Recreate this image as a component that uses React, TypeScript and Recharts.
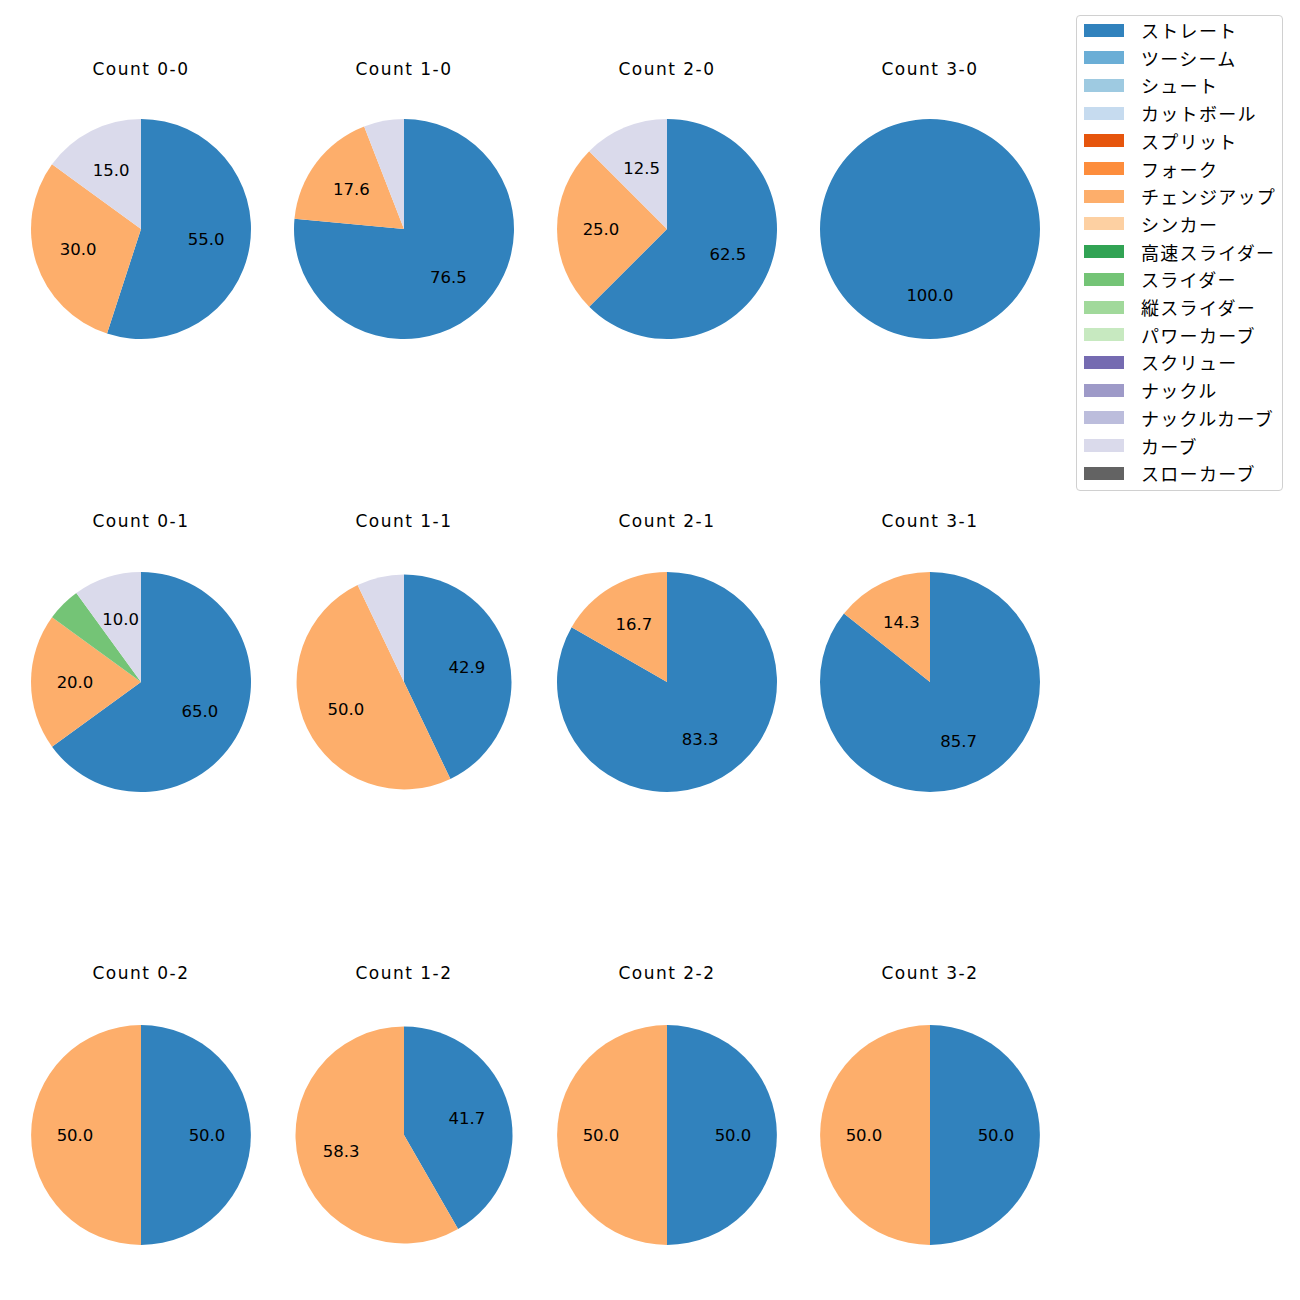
import { PieChart, Pie, Cell } from 'recharts';

const pitchTypes = [
  'ストレート', 'ツーシーム', 'シュート', 'カットボール', 'スプリット', 'フォーク',
  'チェンジアップ', 'シンカー', '高速スライダー', 'スライダー', '縦スライダー',
  'パワーカーブ', 'スクリュー', 'ナックル', 'ナックルカーブ', 'カーブ', 'スローカーブ',
];
const pitchColors = [
  '#3182bd', '#6baed6', '#9ecae1', '#c6dbef', '#e6550d', '#fd8d3c',
  '#fdae6b', '#fdd0a2', '#31a354', '#74c476', '#a1d99b',
  '#c7e9c0', '#756bb1', '#9e9ac8', '#bcbddc', '#dadaeb', '#636363',
];

const counts = ['0-0', '1-0', '2-0', '3-0', '0-1', '1-1', '2-1', '3-1', '0-2', '1-2', '2-2', '3-2'];
const straight = [55.0, 76.5, 62.5, 100.0, 65.0, 42.9, 83.3, 85.7, 50.0, 41.7, 50.0, 50.0];
const changeup = [30.0, 17.6, 25.0, 0, 20.0, 50.0, 16.7, 14.3, 50.0, 58.3, 50.0, 50.0];
const slider = [0, 0, 0, 0, 5.0, 0, 0, 0, 0, 0, 0, 0];
const curve = [15.0, 5.9, 12.5, 0, 10.0, 7.1, 0, 0, 0, 0, 0, 0];

const colX = [141, 404, 667, 930];
const rowY = [229, 682, 1135];
const titleY = [69, 521, 973];
const radii = [110, 110, 110, 110, 110, 107.5, 110, 110, 110, 108.5, 110, 110];

const JP_FONT = '"Noto Sans CJK JP", "Noto Sans", sans-serif';
const NUM_FONT = '"DejaVu Sans", sans-serif';
const RAD = Math.PI / 180;

function sliceData(i: number) {
  return [
    { name: 'ストレート', value: straight[i], color: pitchColors[0] },
    { name: 'チェンジアップ', value: changeup[i], color: pitchColors[6] },
    { name: 'スライダー', value: slider[i], color: pitchColors[9] },
    { name: 'カーブ', value: curve[i], color: pitchColors[15] },
  ].filter((d) => d.value > 0);
}

// matplotlib-style autopct label at 0.6 r, small slices unlabelled
const renderLabel = (props: any) => {
  const { cx, cy, midAngle, outerRadius, value } = props;
  if (value < 10) return null;
  const r = outerRadius * 0.6;
  const x = cx + r * Math.cos(-midAngle * RAD);
  const y = cy + r * Math.sin(-midAngle * RAD);
  return (
    <text
      x={x}
      y={y}
      textAnchor="middle"
      dominantBaseline="central"
      fill="#000"
      style={{ fontSize: 16.5, fontFamily: NUM_FONT }}
    >
      {value.toFixed(1)}
    </text>
  );
};

export default function App() {
  return (
    <div style={{ position: 'absolute', left: 0, top: 0, width: 1300, height: 1300, background: '#fff' }}>
      <PieChart
        width={1300}
        height={1300}
        margin={{ top: 0, right: 0, bottom: 0, left: 0 }}
        style={{ position: 'absolute', left: 0, top: 0 }}
      >
        {counts.map((c, i) => {
          const data = sliceData(i);
          return (
            <Pie
              key={c}
              data={data}
              dataKey="value"
              nameKey="name"
              cx={colX[i % 4]}
              cy={rowY[Math.floor(i / 4)]}
              outerRadius={radii[i]}
              startAngle={90}
              endAngle={-270}
              stroke="none"
              label={renderLabel}
              labelLine={false}
              isAnimationActive={false}
            >
              {data.map((d, k) => (
                <Cell key={k} fill={d.color} />
              ))}
            </Pie>
          );
        })}
      </PieChart>
      {counts.map((c, i) => (
        <div
          key={c}
          style={{
            position: 'absolute',
            left: colX[i % 4] - 100,
            width: 200,
            top: titleY[Math.floor(i / 4)] - 12,
            height: 24,
            lineHeight: '24px',
            textAlign: 'center',
            fontSize: 17,
            letterSpacing: 1.5,
            fontFamily: NUM_FONT,
            color: '#000',
          }}
        >
          Count {c}
        </div>
      ))}
      <div
        style={{
          position: 'absolute',
          left: 1076,
          top: 15,
          width: 207,
          height: 476,
          boxSizing: 'border-box',
          border: '1px solid #d0d0d0',
          borderRadius: 4,
          fontFamily: JP_FONT,
        }}
      >
        {pitchTypes.map((p, k) => (
          <div key={p} style={{ position: 'absolute', left: 7, top: 7 + k * 27.7, height: 14, display: 'flex', alignItems: 'center' }}>
            <div style={{ width: 40, height: 13, background: pitchColors[k] }} />
            <span style={{ marginLeft: 17, fontSize: 18, letterSpacing: 1.3, whiteSpace: 'nowrap', color: '#000' }}>{p}</span>
          </div>
        ))}
      </div>
    </div>
  );
}
